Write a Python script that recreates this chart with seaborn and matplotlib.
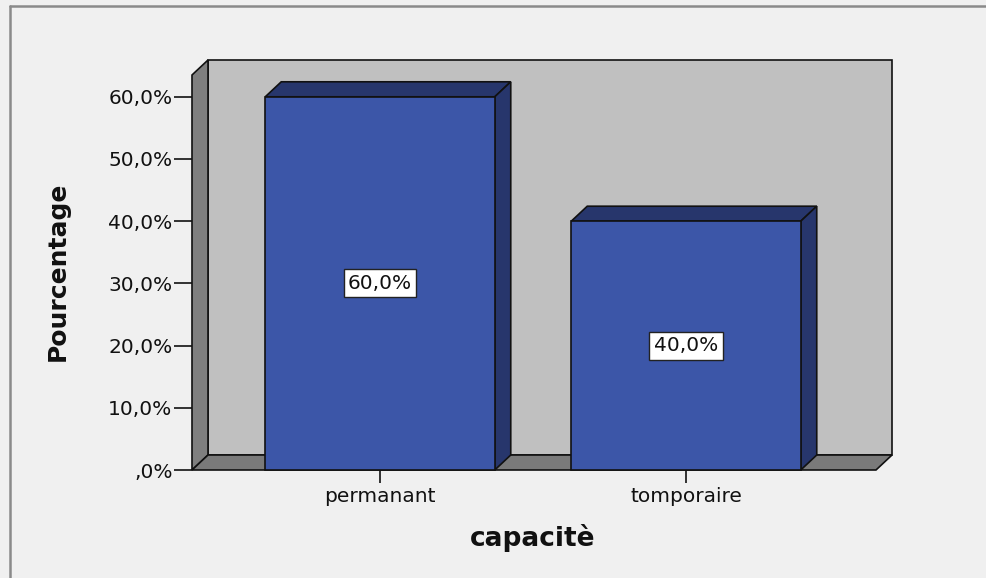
import matplotlib
matplotlib.use("Agg")
import matplotlib.pyplot as plt
from matplotlib.patches import Polygon
from matplotlib.lines import Line2D
import seaborn as sns
import pandas as pd

# Data
categories = ["permanant", "tomporaire"]
percentages = [60.0, 40.0]
y_ticks = [0, 10, 20, 30, 40, 50, 60]
y_tick_labels = [",0%", "10,0%", "20,0%", "30,0%", "40,0%", "50,0%", "60,0%"]
bar_labels = ["60,0%", "40,0%"]

sns.set_theme(style="white")
plt.rcParams["font.family"] = ["DejaVu Sans"]

BG = "#f0f0f0"
WALL = "#c0c0c0"
SIDE = "#7f7f7f"
FLOOR = "#7a7a7a"
FRONT = "#3c56a8"
DARK = "#27366c"
EDGE = "#111111"
LW = 1.2

W, H = 986, 578
fig = plt.figure(figsize=(W / 100, H / 100), dpi=100, facecolor=BG)

# axes box in pixel terms: left 192, right 892, top 60, bottom 470
ax = fig.add_axes([192 / W, 1 - 470 / H, 700 / W, 410 / H])
ax.set_facecolor("none")

px_x = 306.0           # pixels per category step
px_y = 6.22            # pixels per percent
xmin = (192 - 380) / px_x
xmax = (892 - 380) / px_x
ymax = (470 - 60) / px_y
dx = 16 / px_x         # depth offset (x)
dy = 15 / px_y         # depth offset (y)
front_top = ymax - dy
floor_right = xmax - dx

ax.set_xlim(xmin, xmax)
ax.set_ylim(0, ymax)


def face(points, color, z):
    ax.add_patch(Polygon(points, closed=True, facecolor=color, edgecolor=EDGE,
                         lw=LW, zorder=z, clip_on=False, joinstyle="miter"))


# back wall, left wall, floor
face([(xmin + dx, dy), (xmax, dy), (xmax, ymax), (xmin + dx, ymax)], WALL, 0.5)
face([(xmin, 0), (xmin + dx, dy), (xmin + dx, ymax), (xmin, front_top)], SIDE, 0.6)
face([(xmin, 0), (floor_right, 0), (xmax, dy), (xmin + dx, dy)], FLOOR, 0.6)

df = pd.DataFrame({"capacite": categories, "pct": percentages})
sns.barplot(data=df, x="capacite", y="pct", width=0.75, color=FRONT,
            saturation=1, edgecolor=EDGE, linewidth=LW, ax=ax, zorder=3)
ax.set_xlim(xmin, xmax)
ax.set_ylim(0, ymax)

# top and right faces of each bar
front_bars = [p for p in ax.patches if p.get_zorder() == 3]
for bar in front_bars:
    bar.set_clip_on(False)
    x0 = bar.get_x()
    x1 = x0 + bar.get_width()
    h = bar.get_height()
    face([(x0, h), (x1, h), (x1 + dx, h + dy), (x0 + dx, h + dy)], DARK, 2.9)
    face([(x1, 0), (x1 + dx, dy), (x1 + dx, h + dy), (x1, h)], DARK, 2.9)

# value labels
for i, (v, lab) in enumerate(zip(percentages, bar_labels)):
    ax.text(i, v / 2, lab, ha="center", va="center", fontsize=14.5, color="#111111",
            zorder=5, bbox=dict(boxstyle="square,pad=0.22", facecolor="white",
                                edgecolor="#222222", linewidth=1.0))

for s in ax.spines.values():
    s.set_visible(False)

ax.set_yticks(y_ticks)
ax.set_yticklabels(y_tick_labels)
ax.set_xticks(range(len(categories)))
ax.set_xticklabels(categories)
ax.tick_params(axis="y", left=True, length=13, width=1.2, color=EDGE, pad=1,
               labelsize=14.5, labelcolor="#111111")
ax.tick_params(axis="x", bottom=True, length=9, width=1.2, color=EDGE, pad=3,
               labelsize=14.5, labelcolor="#111111")

ax.set_xlabel("capacitè", fontsize=19, fontweight="bold", color="#111111")
ax.set_ylabel("Pourcentage", fontsize=18, fontweight="bold", color="#111111")
ax.xaxis.set_label_coords((533 - 192) / 700, (470 - 538) / 410)
ax.xaxis.label.set_va("center")
ax.yaxis.set_label_coords((58 - 192) / 700, (470 - 271) / 410)
ax.yaxis.label.set_va("center")

# outer frame (left and top edges)
fig.add_artist(Line2D([10 / W, 10 / W], [0, 1 - 6 / H], transform=fig.transFigure,
                      color="#8a8a8a", lw=1.8))
fig.add_artist(Line2D([10 / W, 1], [1 - 6 / H, 1 - 6 / H], transform=fig.transFigure,
                      color="#8a8a8a", lw=1.8))

fig.savefig("out.png", dpi=100, facecolor=BG)
